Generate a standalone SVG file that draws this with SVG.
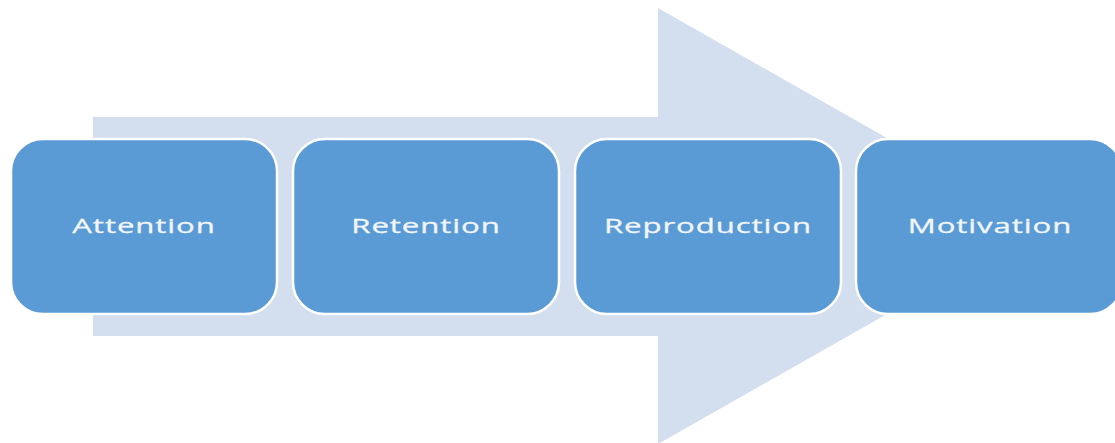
<svg xmlns="http://www.w3.org/2000/svg" width="1115" height="443" viewBox="0 0 1115 443">
<style>
.box{fill:#5B9BD5;stroke:#FFFFFF;stroke-width:2.5}
.lbl{fill:#F2F6FB;stroke:#F2F6FB;stroke-width:0.3;font-family:"Open Sans","Noto Sans",sans-serif;font-size:20.5px;text-anchor:middle;dominant-baseline:central;letter-spacing:0.6px}
</style>
<rect width="1115" height="443" fill="#FFFFFF"/>
<g id="arrow">
<polygon points="93,117 658,117 658,8 1042,226 658,444 658,336 93,336" fill="#D3DEEF"/>
</g>
<g id="connectors"></g>
<g id="node-attention">
<rect class="box" x="11" y="139" width="266" height="175" rx="32" ry="32"/>
<text class="lbl" transform="translate(144,225) scale(1.52,1)">Attention</text>
</g>
<g id="node-retention">
<rect class="box" x="293" y="139" width="266" height="175" rx="32" ry="32"/>
<text class="lbl" transform="translate(426,225) scale(1.52,1)">Retention</text>
</g>
<g id="node-reproduction">
<rect class="box" x="575" y="139" width="266" height="175" rx="32" ry="32"/>
<text class="lbl" transform="translate(708,225) scale(1.52,1)">Reproduction</text>
</g>
<g id="node-motivation">
<rect class="box" x="856" y="139" width="266" height="175" rx="32" ry="32"/>
<text class="lbl" transform="translate(990,225) scale(1.52,1)">Motivation</text>
</g>
</svg>
